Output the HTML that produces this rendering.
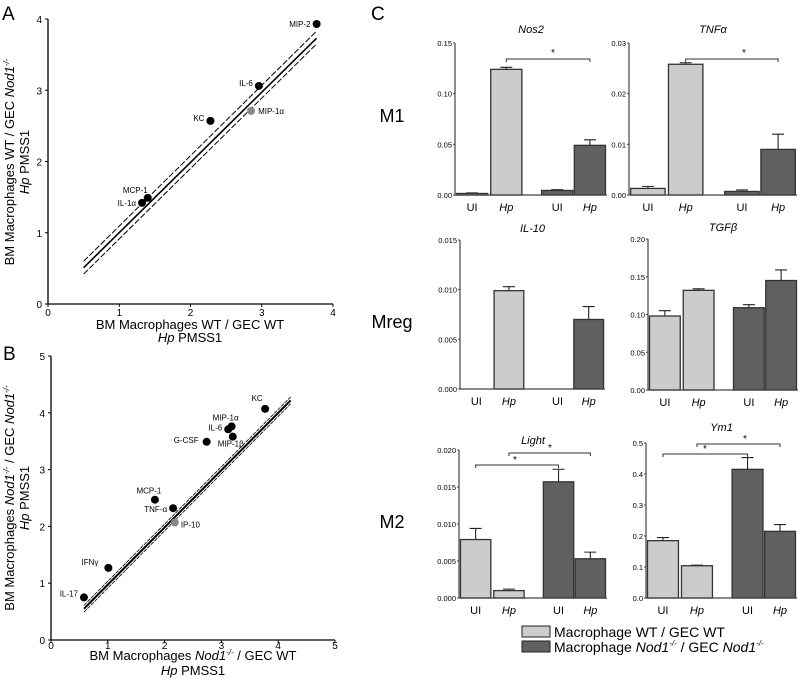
<!DOCTYPE html>
<html><head><meta charset="utf-8">
<style>
body{margin:0;background:#fff;}
svg{display:block;font-family:"Liberation Sans",Arial,sans-serif;}
</style></head>
<body>
<svg id="fig" width="800" height="682" viewBox="0 0 800 682" xmlns="http://www.w3.org/2000/svg">
<text x="2" y="20" font-size="19">A</text>
<text x="3" y="360" font-size="19">B</text>
<text x="371" y="20" font-size="19">C</text>
<text x="392" y="122" font-size="18" text-anchor="middle">M1</text>
<text x="392" y="328" font-size="18" text-anchor="middle">Mreg</text>
<text x="392" y="528" font-size="18" text-anchor="middle">M2</text>
<g>
<rect x="522" y="626" width="28" height="11" fill="#cccccc" stroke="#222" stroke-width="1"/>
<text x="554" y="637" font-size="14">Macrophage WT / GEC WT</text>
<rect x="522" y="641" width="28" height="11" fill="#606060" stroke="#222" stroke-width="1"/>
<text x="554" y="652" font-size="14">Macrophage <tspan font-style="italic">Nod1</tspan><tspan font-size="8" dy="-6" font-style="italic">-/-</tspan><tspan dy="6"> / GEC </tspan><tspan font-style="italic">Nod1</tspan><tspan font-size="8" dy="-6" font-style="italic">-/-</tspan></text>
</g>
</svg>
<script>
// Panel A data
const aNames=["MIP-2","IL-6","MIP-1\u03b1","KC","MCP-1","IL-1\u03b1"];
const aX=[3.77,2.96,2.85,2.28,1.40,1.32];
const aY=[3.93,3.06,2.71,2.57,1.49,1.42];
const aGray=[0,0,1,0,0,0];
const aTicks=[0,1,2,3,4];
// Panel B data
const bNames=["KC","MIP-1\u03b1","IL-6","MIP-1\u03b2","G-CSF","MCP-1","TNF-\u03b1","IP-10","IFN\u03b3","IL-17"];
const bX=[3.77,3.18,3.12,3.20,2.74,1.83,2.15,2.18,1.01,0.58];
const bY=[4.07,3.76,3.71,3.58,3.49,2.47,2.32,2.07,1.27,0.75];
const bGray=[0,0,0,0,0,0,0,1,0,0];
const bTicks=[0,1,2,3,4,5];
// Panel C data
const cGroups=["UI","Hp","UI","Hp"];
const nos2Vals=[0.0015,0.124,0.0045,0.049], nos2Err=[0.0005,0.002,0.0007,0.0055], nos2Ticks=[0,0.05,0.10,0.15];
const tnfVals=[0.0013,0.0258,0.0007,0.009], tnfErr=[0.0004,0.0003,0.0003,0.003], tnfTicks=[0,0.01,0.02,0.03];
const il10Vals=[0,0.0099,0,0.0070], il10Err=[0,0.0004,0,0.0013], il10Ticks=[0,0.005,0.010,0.015];
const tgfVals=[0.098,0.132,0.109,0.145], tgfErr=[0.007,0.002,0.004,0.014], tgfTicks=[0,0.05,0.10,0.15,0.20];
const lightVals=[0.0079,0.001,0.0157,0.0053], lightErr=[0.0015,0.0002,0.0017,0.0009], lightTicks=[0,0.005,0.010,0.015,0.020];
const ym1Vals=[0.185,0.104,0.415,0.215], ym1Err=[0.01,0.002,0.038,0.022], ym1Ticks=[0,0.1,0.2,0.3,0.4,0.5];

const NS="http://www.w3.org/2000/svg";
const svg=document.getElementById('fig');
function el(tag,attrs,parent){const e=document.createElementNS(NS,tag);for(const k in attrs)e.setAttribute(k,attrs[k]);(parent||svg).appendChild(e);return e;}

function scatter(cfg){
  const g=el('g',{});
  
  
  const sx=v=>cfg.x0+(v-cfg.min)/(cfg.max-cfg.min)*(cfg.x1-cfg.x0);
  const sy=v=>cfg.y0-(v-cfg.min)/(cfg.max-cfg.min)*(cfg.y0-cfg.y1);
  const ax=el('path',{d:`M${cfg.x0},${cfg.y1}V${cfg.y0}H${cfg.x1}`,fill:'none',stroke:'#000','stroke-width':1.3},g);
  
  
  cfg.ticks.forEach(t=>{
    el('line',{x1:sx(t),x2:sx(t),y1:cfg.y0,y2:cfg.y0+3,stroke:'#000'},g);
    el('line',{x1:cfg.x0-3,x2:cfg.x0,y1:sy(t),y2:sy(t),stroke:'#000'},g);
    const tx=el('text',{x:sx(t),y:cfg.y0+cfg.tickDy,'font-size':10,'text-anchor':'middle'},g);tx.textContent=t;
    
    
    const ty=el('text',{x:cfg.x0-6,y:sy(t)+4,'font-size':10,'text-anchor':'end'},g);ty.textContent=t;
    
    
  });
  cfg.lines.forEach(l=>{
    const ln=el('line',{x1:sx(l[0]),y1:sy(l[1]),x2:sx(l[2]),y2:sy(l[3]),stroke:'#000','stroke-width':l[4],'stroke-dasharray':l[5]},g);
    
    
  });
  cfg.xs.forEach((v,i)=>{
    const c=el('circle',{cx:sx(v),cy:sy(cfg.ys[i]),r:4,fill:cfg.gray[i]?'#888':'#000'},g);
    
    
    const o=cfg.lab[i];
    const t=el('text',{x:sx(v)+o[0],y:sy(cfg.ys[i])+o[1],'font-size':8,'text-anchor':o[2]},g);
    t.textContent=cfg.names[i];
    
    
  });
  return g;
}

scatter({name:'panel-a-scatter',x0:48,x1:333,y0:304,y1:19,min:0,max:4,tickDy:12,ticks:aTicks,xs:aX,ys:aY,gray:aGray,names:aNames,
  lab:[[-6,3,'end'],[-6,0,'end'],[7,3,'start'],[-6,0,'end'],[0,-5,'end'],[-6,3,'end']],
  lines:[[0.5,0.51,3.77,3.73,1.6,''],[0.5,0.6,3.77,3.83,1,'6,2'],[0.5,0.42,3.77,3.65,1,'6,2']]});
scatter({name:'panel-b-scatter',x0:51,x1:335,y0:640,y1:356,min:0,max:5,tickDy:9,ticks:bTicks,xs:bX,ys:bY,gray:bGray,names:bNames,
  lab:[[-8,-8,'middle'],[-6,-6,'middle'],[-6,1,'end'],[-2,10,'middle'],[-8,1,'end'],[-6,-6,'middle'],[-6,4,'end'],[6,5,'start'],[-10,-3,'end'],[-6,-1,'end']],
  lines:[[0.58,0.55,4.22,4.22,2,''],[0.58,0.61,4.22,4.28,0.8,'4,1'],[0.58,0.49,4.22,4.16,0.8,'4,1']]});

function axisText(x,y,rot,lines){
  lines.forEach((ln,i)=>{
    const t=el('text',{x:0,y:0,'font-size':13,'text-anchor':'middle',transform:`translate(${x[i]},${y[i]}) rotate(${rot})`});
    t.innerHTML=ln;
    
    
  });
}
const sup='<tspan font-size="8" dy="-5" font-style="italic">-/-</tspan><tspan dy="5">';
axisText([190,190],[329,342],0,['BM Macrophages WT / GEC WT','<tspan font-style="italic">Hp</tspan> PMSS1']);
axisText([14,29],[162,162],-90,['BM Macrophages WT / GEC <tspan font-style="italic">Nod1</tspan>'+sup+'</tspan>','<tspan font-style="italic">Hp</tspan> PMSS1']);
axisText([193,193],[660,675],0,['BM Macrophages <tspan font-style="italic">Nod1</tspan>'+sup+' / GEC WT</tspan>','<tspan font-style="italic">Hp</tspan> PMSS1']);
axisText([14,29],[498,498],-90,['BM Macrophages <tspan font-style="italic">Nod1</tspan>'+sup+' / GEC </tspan><tspan font-style="italic">Nod1</tspan>'+sup+'</tspan>','<tspan font-style="italic">Hp</tspan> PMSS1']);

function barChart(cfg){
  const g=el('g',{});
  
  
  const W=cfg.x1-cfg.x0, max=cfg.ticks[cfg.ticks.length-1];
  const sy=v=>cfg.y0-v/max*(cfg.y0-cfg.y1);
  const starts=[0.01,0.235,0.57,0.785], bw=0.205;
  const cx=i=>cfg.x0+(starts[i]+bw/2)*W;
  const t=el('text',{x:(cfg.x0+cfg.x1)/2,y:cfg.y1-cfg.titleDy,'font-size':11,'font-style':'italic','text-anchor':'middle'},g);
  t.innerHTML=cfg.title;
  
  
  cfg.vals.forEach((v,i)=>{
    const x=cfg.x0+starts[i]*W, y=sy(v);
    if(v>0){
      const e=sy(v+cfg.err[i]);
      el('path',{d:`M${cx(i)},${y}V${e}M${cx(i)-6},${e}H${cx(i)+6}`,stroke:'#222','stroke-width':1.1,fill:'none'},g);
      const r=el('rect',{x:x,y:y,width:bw*W,height:cfg.y0-y,fill:i<2?'#cccccc':'#606060',stroke:'#333','stroke-width':1.3},g);
      
      
    }
    const l=el('text',{x:cx(i),y:cfg.y0+16,'font-size':11,'text-anchor':'middle','font-style':i%2?'italic':'normal'},g);
    l.textContent=cfg.groups[i];
    
    
  });
  const ax=el('path',{d:`M${cfg.x0},${cfg.y1}V${cfg.y0}H${cfg.x1}`,fill:'none',stroke:'#444','stroke-width':1.2},g);
  
  
  cfg.ticks.forEach(tk=>{
    el('line',{x1:cfg.x0-2,x2:cfg.x0,y1:sy(tk),y2:sy(tk),stroke:'#444'},g);
    const ty=el('text',{x:cfg.x0-3,y:sy(tk)+3,'font-size':7.5,'text-anchor':'end'},g);
    ty.textContent=tk.toFixed(cfg.dec);
    
    
  });
  (cfg.brackets||[]).forEach(b=>{
    const p=el('path',{d:`M${cx(b[0])},${b[2]+3}V${b[2]}H${cx(b[1])}V${b[2]+3}`,fill:'none',stroke:'#333','stroke-width':1},g);
    
    
    const s=el('text',{x:b[3],y:b[4],'font-size':10,'text-anchor':'middle'},g);
    s.textContent='*';
    
    
  });
}
barChart({name:'nos2-chart',title:'Nos2',titleDy:10,x0:455,x1:607,y0:195,y1:43,ticks:nos2Ticks,dec:2,vals:nos2Vals,err:nos2Err,groups:cGroups,brackets:[[1,3,59,553,56]]});
barChart({name:'tnfa-chart',title:'TNF&#945;',titleDy:10,x0:629,x1:797,y0:195,y1:43,ticks:tnfTicks,dec:2,vals:tnfVals,err:tnfErr,groups:cGroups,brackets:[[1,3,59,744,56]]});
barChart({name:'il10-chart',title:'IL-10',titleDy:8,x0:460,x1:605,y0:389,y1:240,ticks:il10Ticks,dec:3,vals:il10Vals,err:il10Err,groups:cGroups});
barChart({name:'tgfb-chart',title:'TGF&#946;',titleDy:8,x0:648,x1:798,y0:390,y1:239,ticks:tgfTicks,dec:2,vals:tgfVals,err:tgfErr,groups:cGroups});
barChart({name:'light-chart',title:'Light',titleDy:6,x0:459,x1:607,y0:598,y1:450,ticks:lightTicks,dec:3,vals:lightVals,err:lightErr,groups:cGroups,brackets:[[1,3,453,550,451],[0,2,465,515,463]]});
barChart({name:'ym1-chart',title:'Ym1',titleDy:12,x0:646,x1:797,y0:598,y1:443,ticks:ym1Ticks,dec:1,vals:ym1Vals,err:ym1Err,groups:cGroups,brackets:[[1,3,444,745,442],[0,2,454,705,452]]});
</script>
</body></html>
